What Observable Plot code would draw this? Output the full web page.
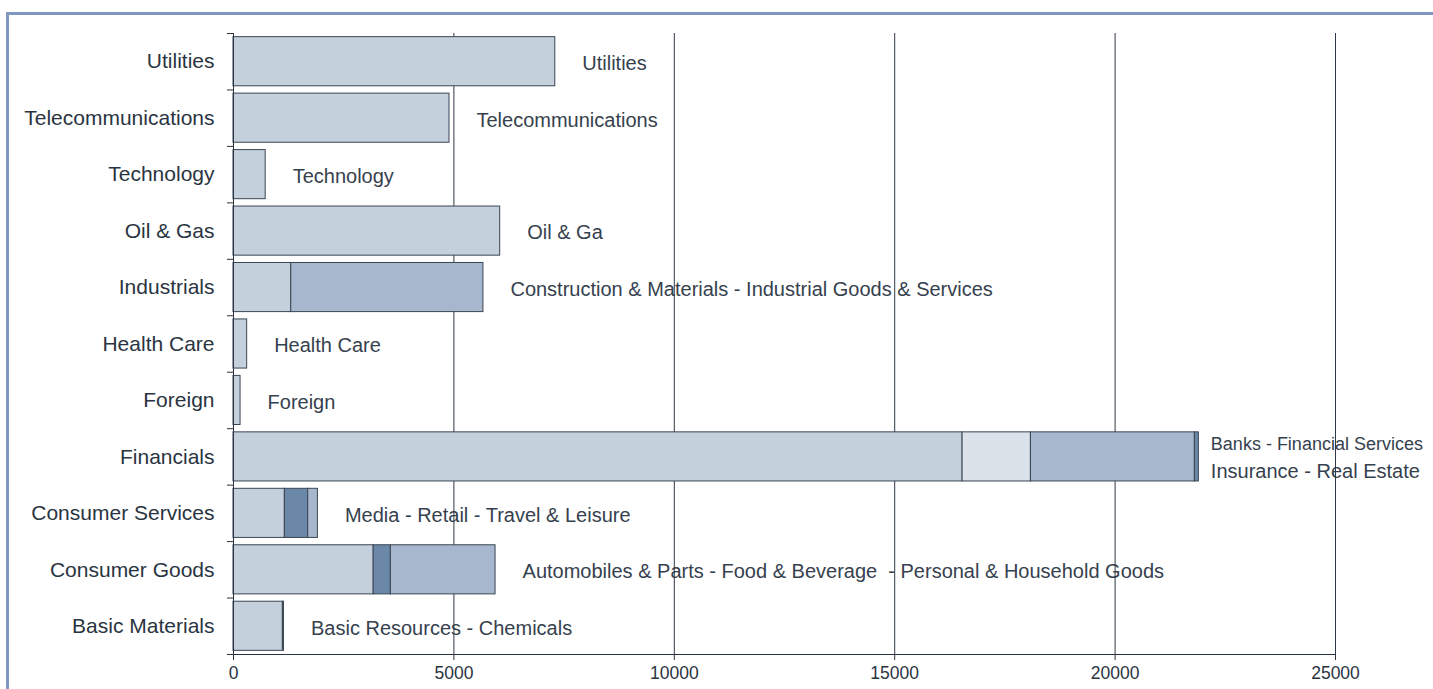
<!DOCTYPE html>
<html>
<head>
<meta charset="utf-8">
<script src="https://cdn.jsdelivr.net/npm/d3@7"></script>
<script src="https://cdn.jsdelivr.net/npm/@observablehq/plot@0.6"></script>
<style>
  html, body { margin: 0; padding: 0; background: #fff; overflow: hidden; }
  #wrap { position: relative; width: 1433px; height: 689px; }
  #border { position: absolute; left: 6px; top: 12px; width: 1450px; height: 700px;
            border-top: 3px solid #8297c0; border-left: 3px solid #8297c0; }
  #chart { position: absolute; left: 0; top: 0; }
</style>
</head>
<body>
<div id="wrap"><div id="border"></div><div id="chart"></div></div>
<script>
// Sectors (bottom to top as drawn)
const sectors = ["Basic Materials", "Consumer Goods", "Consumer Services", "Financials", "Foreign",
  "Health Care", "Industrials", "Oil & Gas", "Technology", "Telecommunications", "Utilities"];
const sectorLabels = ["Basic Resources - Chemicals",
  "Automobiles & Parts - Food & Beverage \u00a0- Personal & Household Goods",
  "Media - Retail - Travel & Leisure",
  "Banks - Financial Services\nInsurance - Real Estate",
  "Foreign", "Health Care",
  "Construction & Materials - Industrial Goods & Services",
  "Oil & Ga", "Technology", "Telecommunications", "Utilities"];

// Sub-sector segments
const segSector = ["Basic Materials", "Basic Materials",
  "Consumer Goods", "Consumer Goods", "Consumer Goods",
  "Consumer Services", "Consumer Services", "Consumer Services",
  "Financials", "Financials", "Financials", "Financials",
  "Foreign", "Health Care",
  "Industrials", "Industrials",
  "Oil & Gas", "Technology", "Telecommunications", "Utilities"];
const segName = ["Basic Resources", "Chemicals",
  "Automobiles & Parts", "Food & Beverage", "Personal & Household Goods",
  "Media", "Retail", "Travel & Leisure",
  "Banks", "Financial Services", "Insurance", "Real Estate",
  "Foreign", "Health Care",
  "Construction & Materials", "Industrial Goods & Services",
  "Oil & Gas", "Technology", "Telecommunications", "Utilities"];
const segValue = [1120, 25,
  3180, 390, 2375,
  1165, 530, 220,
  16540, 1550, 3720, 90,
  160, 310,
  1310, 4360,
  6050, 730, 4900, 7300];

const xTicks = [0, 5000, 10000, 15000, 20000, 25000];

// colour per sub-sector (scale range)
const L = "#c4d0dc", XL = "#dbe2ea", M = "#a7b8ce", D = "#6b88a9";
const segColors = [L, D, L, D, M, L, D, M, L, XL, M, D, L, L, L, M, L, L, L, L];

const segments = segName.map((n, i) => ({sector: segSector[i], name: n, value: segValue[i]}));
const totals = d3.rollup(segments, v => d3.sum(v, d => d.value), d => d.sector);
const labelRows = sectors.map((s, i) => ({sector: s, label: sectorLabels[i], total: totals.get(s)}));
const singleRows = labelRows.filter(d => !d.label.includes("\n"));
const multiRows = labelRows.filter(d => d.label.includes("\n"));

const W = 1433, H = 689, mT = 33, mB = 35, mL = 233, mR = 98;
const step = (H - mT - mB) / sectors.length;
const yDomain = sectors.slice().reverse();
const ink = "#2a3441";
const labelInk = "#36414e";

const chart = Plot.plot({
  width: W, height: H,
  marginTop: mT, marginBottom: mB, marginLeft: mL, marginRight: mR,
  style: {fontFamily: "'Liberation Sans', Arial, sans-serif", color: ink, background: "transparent"},
  x: {domain: [0, 25000], label: null},
  y: {domain: yDomain, paddingInner: 0.13, paddingOuter: 0.065, round: false, label: null},
  color: {domain: segName, range: segColors},
  marks: [
    Plot.text(singleRows, {x: "total", y: "sector", text: "label", textAnchor: "start", dx: 27, dy: 2,
      fontSize: 20, fill: labelInk}),
    Plot.text(multiRows, {x: "total", y: "sector", text: d => d.label.split("\n")[0], textAnchor: "start",
      dx: 12, dy: -13, fontSize: 18, fill: labelInk}),
    Plot.text(multiRows, {x: "total", y: "sector", text: d => d.label.split("\n")[1], textAnchor: "start",
      dx: 12, dy: 15, fontSize: 20, fill: labelInk}),
    Plot.gridX({ticks: xTicks.slice(1), stroke: "#2f3945", strokeOpacity: 1, strokeWidth: 1}),
    Plot.barX(segments, Plot.stackX({x: "value", y: "sector", fill: "name", stroke: "#3a4553", strokeWidth: 1})),
    Plot.ruleX([0], {stroke: "#2a3441"}),
    Plot.frame({anchor: "bottom", stroke: "#2a3441"}),
    Plot.axisX({ticks: xTicks, tickFormat: d3.format("d"), tickSize: 6, tickPadding: 6, fontSize: 17.5,
      stroke: "#2a3441", label: null}),
    Plot.axisY({tickSize: 0, tickPadding: 19, fontSize: 21, label: null}),
    Plot.axisY({tickSize: 6, tickFormat: () => "", dy: step / 2, stroke: "#2a3441", label: null}),
    Plot.axisY({ticks: [yDomain[0]], tickSize: 6, tickFormat: () => "", dy: -step / 2, stroke: "#2a3441", label: null})
  ]
});
document.getElementById("chart").appendChild(chart);
</script>
</body>
</html>
